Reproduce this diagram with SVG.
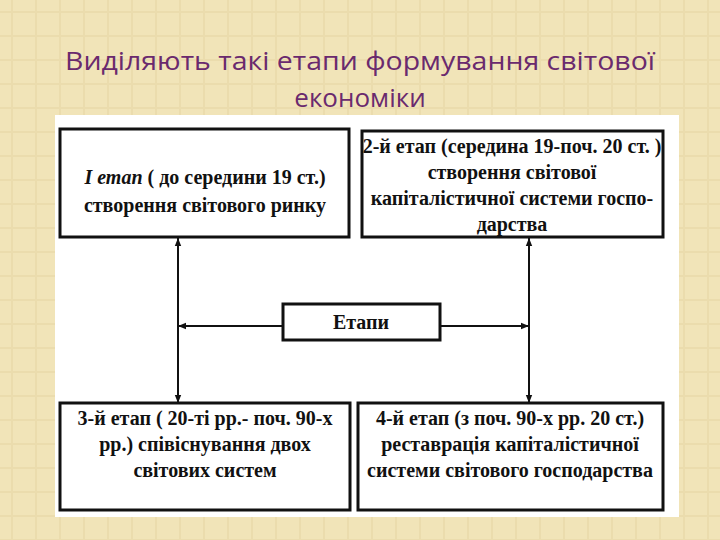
<svg xmlns="http://www.w3.org/2000/svg" width="720" height="540" viewBox="0 0 720 540">
<defs>
<pattern id="bg" width="24" height="24" patternUnits="userSpaceOnUse">
<rect width="24" height="24" fill="#f1e4b8"/>
<path d="M0 12H24M12 0V24" stroke="#e4d3a0" stroke-width="2" opacity="0.45"/>
</pattern>
<marker id="ah" viewBox="0 0 10 10" refX="10" refY="5" markerWidth="8" markerHeight="8" orient="auto-start-reverse" markerUnits="userSpaceOnUse">
<path d="M0 1L10 5L0 9Z" fill="#111"/>
</marker>
</defs>
<style>
.t{font-family:"Open Sans","Noto Sans",sans-serif;font-size:26px;font-weight:500;fill:#6a2a6e;text-anchor:middle}
.b{fill:#fff;stroke:#111;stroke-width:3}
.l{font-family:"Liberation Serif",serif;font-size:20px;font-weight:bold;fill:#111;text-anchor:middle}
.c{stroke:#111;stroke-width:2;fill:none}
</style>
<rect width="720" height="540" fill="url(#bg)"/>
<text class="t" x="360" y="70" textLength="590" lengthAdjust="spacingAndGlyphs">Виділяють такі етапи формування світової</text>
<text class="t" x="360" y="107">економіки</text>
<rect x="55" y="115" width="624" height="402" fill="#fff"/>
<g id="connectors">
<line class="c" x1="178" y1="238" x2="178" y2="403" marker-start="url(#ah)" marker-end="url(#ah)"/>
<line class="c" x1="529" y1="238" x2="529" y2="403" marker-start="url(#ah)" marker-end="url(#ah)"/>
<line class="c" x1="283" y1="326" x2="178" y2="326" marker-end="url(#ah)"/>
<line class="c" x1="440" y1="326" x2="529" y2="326" marker-end="url(#ah)"/>
</g>
<g id="stage1">
<rect class="b" x="60" y="129" width="289" height="108"/>
<text class="l" x="205" y="184"><tspan font-style="italic">I етап</tspan> ( до середини 19 ст.)</text>
<text class="l" x="205" y="212">створення світового ринку</text>
</g>
<g id="stage2">
<rect class="b" x="362" y="131" width="301" height="106"/>
<text class="l" x="512" y="153">2-й етап (середина 19-поч. 20 ст. )</text>
<text class="l" x="512" y="179">створення світової</text>
<text class="l" x="512" y="205">капіталістичної системи госпо-</text>
<text class="l" x="512" y="231">дарства</text>
</g>
<g id="etapy">
<rect class="b" x="283" y="304" width="157" height="36"/>
<text class="l" x="361" y="329">Етапи</text>
</g>
<g id="stage3">
<rect class="b" x="60" y="403" width="290" height="107"/>
<text class="l" x="205" y="425">3-й етап ( 20-ті рр.- поч. 90-х</text>
<text class="l" x="205" y="451">рр.) співіснування двох</text>
<text class="l" x="205" y="477">світових систем</text>
</g>
<g id="stage4">
<rect class="b" x="358" y="403" width="305" height="107"/>
<text class="l" x="510" y="425">4-й етап (з поч. 90-х рр. 20 ст.)</text>
<text class="l" x="510" y="451">реставрація капіталістичної</text>
<text class="l" x="510" y="477">системи світового господарства</text>
</g>
</svg>
